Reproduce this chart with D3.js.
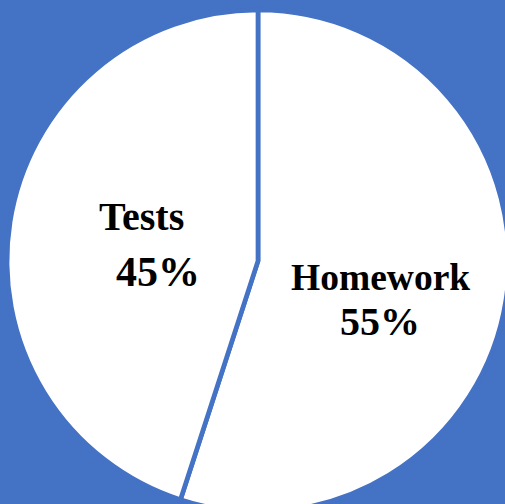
<!DOCTYPE html>
<html>
<head>
<meta charset="utf-8">
<script src="https://cdn.jsdelivr.net/npm/d3@7"></script>
<style>
  html, body { margin: 0; padding: 0; background: #4472C4; }
  svg { display: block; }
  .lbl { font-family: "Liberation Serif", "Times New Roman", Times, serif; font-weight: 700; }
</style>
</head>
<body>
<svg id="chart" width="505" height="504"></svg>
<script>
const categories = ["Homework", "Tests"];
const values = [55, 45];
const percentLabels = ["55%", "45%"];

const W = 505, H = 504;
const cx = 258, cy = 261, R = 251;
const blue = "#4472C4";

const svg = d3.select("#chart");
svg.append("rect").attr("width", W).attr("height", H).attr("fill", blue);

const data = categories.map((c, i) => ({ name: c, value: values[i], pct: percentLabels[i] }));

const pie = d3.pie().value(d => d.value).sort(null).startAngle(0).endAngle(2 * Math.PI);
const arc = d3.arc().innerRadius(0).outerRadius(R);
const labelArc = d3.arc().innerRadius(116).outerRadius(116);

const g = svg.append("g").attr("transform", `translate(${cx},${cy})`);
const arcs = pie(data);

g.selectAll("path").data(arcs).join("path")
  .attr("d", arc)
  .attr("fill", "#FFFFFF")
  .attr("stroke", blue)
  .attr("stroke-width", 4.7)
  .attr("stroke-linejoin", "miter");

// label layout offsets relative to the label centroid (layout only)
const labelLayout = {
  "Homework": { anchor: "middle", lines: [
    { t: d => d.name, x: 8, y: 10.5, size: 37.5 },
    { t: d => d.pct, x: 7.4, y: 55.5, size: 40 }] },
  "Tests": { anchor: "start", lines: [
    { t: d => d.name, x: -44.4, y: -12.5, size: 40 },
    { t: d => d.pct, x: -27.4, y: 43.6, size: 42 }] }
};

arcs.forEach(a => {
  const [lx, ly] = labelArc.centroid(a);
  const L = labelLayout[a.data.name];
  L.lines.forEach(line => {
    g.append("text")
      .attr("class", "lbl")
      .attr("x", lx + line.x)
      .attr("y", ly + line.y)
      .attr("text-anchor", L.anchor)
      .attr("font-size", line.size)
      .attr("fill", "#000")
      .text(line.t(a.data));
  });
});
</script>
</body>
</html>
